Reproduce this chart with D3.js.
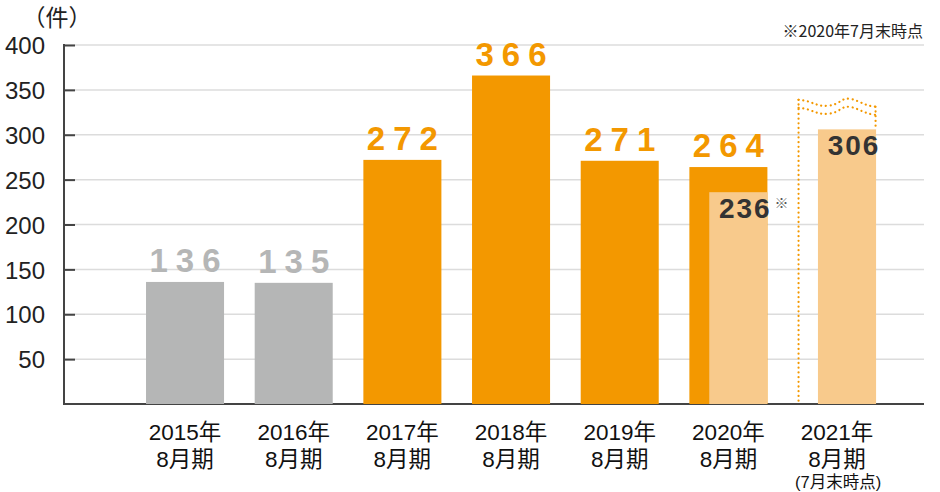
<!DOCTYPE html>
<html><head><meta charset="utf-8">
<script src="https://cdn.jsdelivr.net/npm/d3@7"></script>
<style>body{margin:0;background:#fff;} svg{display:block;}</style>
</head><body>
<svg id="c" width="940" height="492"></svg>
<script>
const categories = ["2015年","2016年","2017年","2018年","2019年","2020年","2021年"];
const subLabel = ["8月期","8月期","8月期","8月期","8月期","8月期","8月期"];
const totalValues = [136, 135, 272, 366, 271, 264, null];
const julyValues = [null, null, null, null, null, 236, 306];
const barColors = ["#b5b6b6","#b5b6b6","#f39800","#f39800","#f39800","#f39800",null];
const labelColors = ["#b5b6b6","#b5b6b6","#f39800","#f39800","#f39800","#f39800",null];
const yTicks = [50,100,150,200,250,300,350,400];
const unitLabel = "（件）";
const noteText = "※2020年7月末時点";
const extraNote = "(7月末時点)";

const svg = d3.select("#c");
const y = d3.scaleLinear().domain([0,400]).range([404,45]);
const x = d3.scaleBand().domain(categories).range([130.7,891.4]).paddingInner(0.282).paddingOuter(0.141);
const axisX0 = 64, axisX1 = 924;

// gridlines
svg.append("g").selectAll("line").data(yTicks).join("line")
  .attr("x1",axisX0).attr("x2",axisX1).attr("y1",d=>y(d)).attr("y2",d=>y(d))
  .attr("stroke","#dcdcdc").attr("stroke-width",1.5);

// y axis
const yAxis = d3.axisLeft(y).tickValues(yTicks).tickSize(-11).tickPadding(20).tickFormat(d3.format("d"));
const gy = svg.append("g").attr("transform",`translate(${axisX0},0)`).call(yAxis);
gy.select(".domain").remove();
gy.selectAll(".tick line").attr("stroke","#444").attr("stroke-width",2);
gy.selectAll(".tick text").attr("font-family","'Liberation Sans', Arial, sans-serif").attr("font-size",24).attr("fill","#222").attr("dx",1).attr("dy","0.36em");
svg.append("line").attr("x1",axisX0).attr("x2",axisX0).attr("y1",y(400)-1).attr("y2",y(0)+1).attr("stroke","#444").attr("stroke-width",2);
svg.append("line").attr("x1",axisX0-1).attr("x2",axisX1).attr("y1",y(0)).attr("y2",y(0)).attr("stroke","#444").attr("stroke-width",2);

// bars
const bw = x.bandwidth();
const lightW = bw*0.745;
svg.append("g").selectAll("rect").data(categories.filter((c,i)=>totalValues[i]!=null)).join("rect")
  .attr("x",c=>x(c)).attr("width",bw)
  .attr("y",c=>y(totalValues[categories.indexOf(c)]))
  .attr("height",c=>y(0)-y(totalValues[categories.indexOf(c)]))
  .attr("fill",c=>barColors[categories.indexOf(c)]);

// dotted outline for 2021
(function(){
  const c = categories[6];
  const x0 = x(c)+0.5, x1 = x(c)+bw-0.5;
  const w = x1-x0;
  const g = svg.append("g").attr("fill","none").attr("stroke","#f39800").attr("stroke-width",2.2)
    .attr("stroke-dasharray","0.1 4.6").attr("stroke-linecap","round");
  const top1 = y(339), top2 = y(330);
  const wave = (base)=>`M${x0},${base} C${x0+w*0.18},${base+1} ${x0+w*0.22},${base+7} ${x0+w*0.38},${base+6} S${x0+w*0.55},${base-2} ${x0+w*0.66},${base-1} S${x0+w*0.85},${base+6} ${x1},${base+7}`;
  g.append("path").attr("d",wave(top1));
  g.append("path").attr("d",wave(top2));
  g.append("path").attr("d",`M${x0},${top1} L${x0},${y(0)}`);
  g.append("path").attr("d",`M${x1},${top1+7} L${x1},${y(306)}`);
})();

// light bars (July)
svg.append("g").selectAll("rect").data(categories.filter((c,i)=>julyValues[i]!=null)).join("rect")
  .attr("x",c=>x(c)+bw-lightW).attr("width",lightW)
  .attr("y",c=>y(julyValues[categories.indexOf(c)]))
  .attr("height",c=>y(0)-y(julyValues[categories.indexOf(c)]))
  .attr("fill","#f8ca8c");

// total labels
const ls = 8;
svg.append("g").selectAll("text").data(categories.filter((c,i)=>totalValues[i]!=null)).join("text")
  .attr("x",c=>x(c)+bw/2+ls/2).attr("y",c=>y(totalValues[categories.indexOf(c)])-10)
  .attr("text-anchor","middle").attr("font-family","'Liberation Sans', Arial, sans-serif")
  .attr("font-weight","bold").attr("font-size",33).attr("letter-spacing",ls)
  .attr("fill",c=>labelColors[categories.indexOf(c)])
  .text(c=>totalValues[categories.indexOf(c)]);

// july labels
svg.append("g").selectAll("text").data(categories.filter((c,i)=>julyValues[i]!=null)).join("text")
  .attr("x",c=>x(c)+bw-lightW/2+7).attr("y",c=>y(julyValues[categories.indexOf(c)])+26)
  .attr("text-anchor","middle").attr("font-family","'Liberation Sans', Arial, sans-serif")
  .attr("font-weight","bold").attr("font-size",28).attr("letter-spacing",2)
  .attr("fill","#333")
  .text(c=>julyValues[categories.indexOf(c)]);

// asterisk after 236
svg.append("text").attr("x",x(categories[5])+bw+7).attr("y",y(julyValues[5])+16)
  .attr("font-family","'Noto Sans CJK JP', sans-serif").attr("font-size",14).attr("fill","#555").text("※");

// x labels
const gx = svg.append("g").attr("font-family","'Liberation Sans','Noto Sans CJK JP', sans-serif").attr("font-size",22.5).attr("fill","#111").attr("text-anchor","middle");
categories.forEach((c,i)=>{
  gx.append("text").attr("x",x(c)+bw/2).attr("y",440).text(c);
  gx.append("text").attr("x",x(c)+bw/2).attr("y",467).text(subLabel[i]);
});
gx.append("text").attr("x",x(categories[6])+bw/2+1).attr("y",488).attr("font-size",16.5).text(extraNote);

// unit and note
svg.append("text").attr("x",57).attr("y",26).attr("text-anchor","middle")
  .attr("font-family","'Noto Sans CJK JP', sans-serif").attr("font-size",23).attr("fill","#222").text(unitLabel);
svg.append("text").attr("x",923).attr("y",37).attr("text-anchor","end")
  .attr("font-family","'Noto Sans CJK JP', sans-serif").attr("font-size",16).attr("fill","#222").text(noteText);
</script>
</body></html>
